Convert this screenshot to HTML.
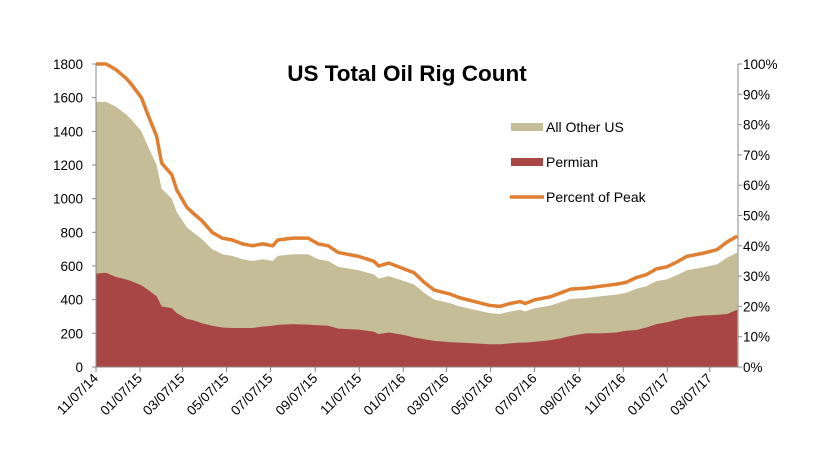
<!DOCTYPE html>
<html><head><meta charset="utf-8"><style>
body{margin:0;background:#fff}
svg text{font-family:"Liberation Sans",sans-serif;fill:#000}
</style></head><body>
<svg width="813" height="461" viewBox="0 0 813 461">
<g id="g"></g>
</svg>
<script>
const startDate = new Date(2014,10,7);
const weeks = [0,2,4,6,7,9,10,12,13,15,16,18,19,21,23,25,27,29,31,33,35,36,39,42,44,46,48,50,52,55,56,58,59,61,63,65,67,70,72,75,78,80,82,84,85,87,90,92,94,97,100,103,105,107,109,111,113,115,117,120,123,125,127];
const totalRigs = [1575,1575,1545,1500,1470,1400,1330,1200,1060,1000,920,830,805,760,700,670,660,640,630,640,630,660,670,670,640,630,595,585,575,550,525,540,530,510,490,440,400,380,360,340,320,315,330,340,330,350,365,385,405,410,420,430,440,465,480,510,520,545,575,590,610,650,680];
const permianRigs = [555,560,535,520,510,485,465,420,360,350,320,285,280,260,245,235,232,232,232,240,245,250,255,252,248,245,228,225,222,210,195,205,200,190,175,165,155,148,145,140,135,135,140,145,145,150,160,170,185,200,200,205,215,220,235,255,265,280,295,305,310,315,340];
const leftTicks = [0,200,400,600,800,1000,1200,1400,1600,1800];
const rightTicks = ["0%","10%","20%","30%","40%","50%","60%","70%","80%","90%","100%"];
const dateLabels = ["11/07/14","01/07/15","03/07/15","05/07/15","07/07/15","09/07/15","11/07/15","01/07/16","03/07/16","05/07/16","07/07/16","09/07/16","11/07/16","01/07/17","03/07/17"];

const X0=96,X1=738,Y0=367,Y1=64;
const pxPerDay=0.7213;
const xDays=d=>X0+d*pxPerDay;
const xW=w=>xDays(w*7);
const yL=v=>Y0-v/1800*(Y0-Y1);
const yP=p=>Y0-p*(Y0-Y1);
const NS="http://www.w3.org/2000/svg";
const g=document.getElementById('g');
function mk(t,a){const e=document.createElementNS(NS,t);for(const k in a)e.setAttribute(k,a[k]);g.appendChild(e);return e;}

const topPts=weeks.map((w,i)=>xW(w)+','+yL(totalRigs[i])).join(' ');
const botPts=weeks.map((w,i)=>xW(w)+','+yL(permianRigs[i])).join(' ');
const a1=mk('polygon',{points:xW(weeks[0])+','+Y0+' '+topPts+' '+xW(weeks[weeks.length-1])+','+Y0,fill:'#C4BD97'});


const a2=mk('polygon',{points:xW(weeks[0])+','+Y0+' '+botPts+' '+xW(weeks[weeks.length-1])+','+Y0,fill:'#A84646'});


const peak=Math.max(...totalRigs);
const ln=mk('polyline',{points:weeks.map((w,i)=>xW(w)+','+yP(totalRigs[i]/peak)).join(' '),fill:'none',stroke:'#E07F32','stroke-width':3.5,'stroke-linejoin':'round'});



const ax=mk('path',{d:`M${X0},${Y1}V${Y0}H${X1}M${X1},${Y1}V${Y0}`,stroke:'#888',fill:'none','stroke-width':1});


leftTicks.forEach(v=>{
 mk('line',{x1:X0-4,x2:X0,y1:yL(v),y2:yL(v),stroke:'#888'});
 const t=mk('text',{x:X0-13,y:yL(v)+5,'text-anchor':'end','font-size':13.5});t.textContent=v;
 
 
});
rightTicks.forEach((s,i)=>{
 const y=yP(i/10);
 mk('line',{x1:X1,x2:X1+4,y1:y,y2:y,stroke:'#888'});
 const t=mk('text',{x:X1+5,y:y+5,'font-size':13.5});t.textContent=s;
 
 
});
dateLabels.forEach(s=>{
 const [m,d,y]=s.split('/').map(Number);
 const dt=new Date(2000+y,m-1,d);
 const days=Math.round((dt-startDate)/86400000);
 const x=xDays(days);
 mk('line',{x1:x,x2:x,y1:Y0,y2:Y0+5,stroke:'#888'});
 const t=mk('text',{x:x+3,y:Y0+12,'text-anchor':'end','font-size':13.5,transform:`rotate(-45 ${x+3} ${Y0+12})`});t.textContent=s;
 
 
});
const ti=mk('text',{x:407,y:81,'text-anchor':'middle','font-size':22.5,'font-weight':'bold'});ti.textContent='US Total Oil Rig Count';


const l1=mk('rect',{x:511,y:123,width:32,height:8,fill:'#C4BD97'});


const t1=mk('text',{x:546,y:132,'font-size':14});t1.textContent='All Other US';


const l2=mk('rect',{x:511,y:158,width:32,height:8,fill:'#A84646'});


const t2=mk('text',{x:546,y:167,'font-size':14});t2.textContent='Permian';


const l3=mk('line',{x1:510,x2:544,y1:197,y2:197,stroke:'#E07F32','stroke-width':3.5});


const t3=mk('text',{x:546,y:202,'font-size':14});t3.textContent='Percent of Peak';


</script>
</body></html>
